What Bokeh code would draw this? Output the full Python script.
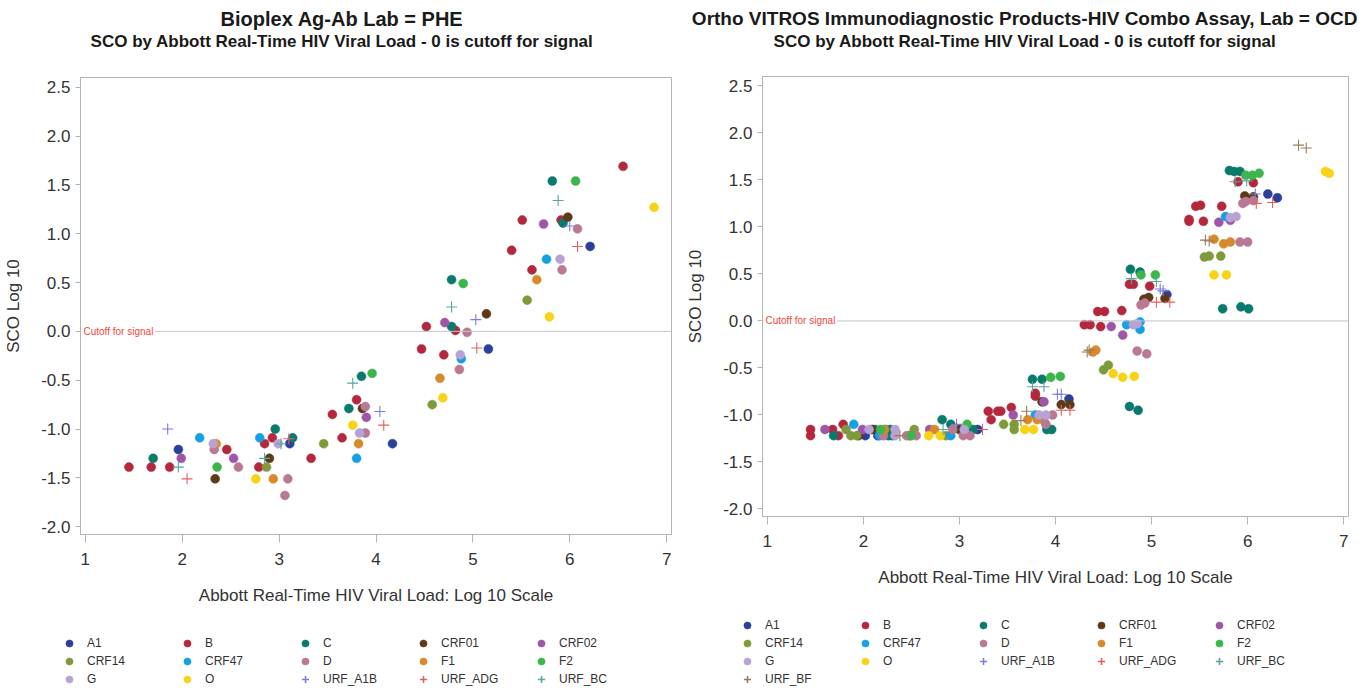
from bokeh.plotting import figure
from bokeh.models import (Range1d, FixedTicker, PrintfTickFormatter, Span, Label,
                          Legend, LegendItem)
from bokeh.layouts import row, column
from bokeh.embed import file_html
from bokeh.resources import INLINE

SUBTYPES = ["A1", "B", "C", "CRF01", "CRF02", "CRF14", "CRF47", "D", "F1", "F2",
            "G", "O", "URF_A1B", "URF_ADG", "URF_BC", "URF_BF"]

X_TICKS = [1, 2, 3, 4, 5, 6, 7]
Y_TICKS = [-2.0, -1.5, -1.0, -0.5, 0.0, 0.5, 1.0, 1.5, 2.0, 2.5]

TITLE_PHE = "Bioplex Ag-Ab Lab = PHE"
TITLE_OCD = "Ortho VITROS Immunodiagnostic Products-HIV Combo Assay, Lab = OCD"
SUBTITLE = "SCO by Abbott Real-Time HIV Viral Load - 0 is cutoff for signal"
X_LABEL = "Abbott Real-Time HIV Viral Load: Log 10 Scale"
Y_LABEL = "SCO Log 10"
CUTOFF_TEXT = "Cutoff for signal"

# ---- Panel 1: Bioplex, Lab = PHE  (x = viral load log10, y = SCO log10)
PHE_A1 = [(1.96, -1.21), (3.11, -1.15), (4.17, -1.15), (5.16, -0.18), (6.21, 0.87)]
PHE_B = [(1.45, -1.39), (1.68, -1.39), (1.87, -1.39), (2.46, -1.21), (2.79, -1.39),
         (2.85, -1.15), (2.93, -1.09), (3.33, -1.30), (3.55, -0.85), (3.65, -1.09),
         (3.80, -0.70), (4.47, -0.18), (4.52, 0.05), (4.70, -0.24), (4.82, 0.01),
         (5.40, 0.83), (5.51, 1.14), (5.61, 0.63), (5.91, 1.14), (6.55, 1.69)]
PHE_C = [(1.70, -1.30), (2.96, -1.00), (3.14, -1.09), (3.72, -0.79), (3.85, -0.46),
         (4.78, 0.53), (4.78, 0.05), (5.82, 1.54), (5.93, 1.11)]
PHE_CRF01 = [(2.34, -1.51), (2.90, -1.30), (3.86, -0.79), (5.14, 0.18), (5.98, 1.17)]
PHE_CRF02 = [(1.99, -1.30), (2.53, -1.30), (3.90, -0.88), (4.71, 0.09), (5.73, 1.10)]
PHE_CRF14 = [(2.87, -1.39), (3.46, -1.15), (4.58, -0.75), (5.56, 0.32)]
PHE_CRF47 = [(2.18, -1.09), (2.80, -1.09), (3.80, -1.30), (4.88, -0.28), (5.76, 0.74)]
PHE_D = [(2.33, -1.21), (2.58, -1.39), (3.06, -1.68), (3.09, -1.51), (3.89, -0.77),
         (3.89, -1.04), (4.86, -0.39), (4.94, -0.01), (5.92, 0.63), (6.08, 1.05)]
PHE_F1 = [(2.35, -1.15), (2.94, -1.51), (3.82, -1.15), (4.66, -0.48), (5.66, 0.53)]
PHE_F2 = [(2.36, -1.39), (3.96, -0.43), (4.90, 0.49), (6.06, 1.54)]
PHE_G = [(2.32, -1.15), (2.99, -1.15), (3.83, -1.04), (4.87, -0.24), (5.90, 0.74)]
PHE_O = [(2.76, -1.51), (3.76, -0.96), (4.69, -0.68), (5.79, 0.15), (6.87, 1.27)]
PHE_URF_A1B = [(1.85, -1.00), (4.04, -0.82), (5.03, 0.12), (6.00, 1.08)]
PHE_URF_ADG = [(2.05, -1.51), (3.10, -1.10), (4.08, -0.96), (5.04, -0.17), (6.08, 0.87)]
PHE_URF_BC = [(1.96, -1.39), (2.85, -1.30), (3.02, -1.15), (3.76, -0.53), (4.78, 0.25),
              (5.88, 1.34)]
PHE_URF_BF = []

# ---- Panel 2: Ortho VITROS, Lab = OCD
OCD_A1 = [(2.02, -1.22), (2.15, -1.22), (3.19, -1.155), (4.14, -0.83), (5.16, 0.28),
          (6.21, 1.35), (6.31, 1.31)]
OCD_B = [(1.45, -1.155), (1.45, -1.22), (1.68, -1.155), (1.74, -1.22), (1.79, -1.10),
         (2.48, -1.22), (3.30, -0.96), (3.33, -1.05), (3.40, -0.96), (3.43, -0.96),
         (3.54, -0.92), (3.79, -0.80), (3.79, -0.77), (4.30, -0.04), (4.36, -0.04),
         (4.47, -0.06), (4.44, 0.10), (4.51, 0.10), (4.69, 0.11), (4.77, 0.39),
         (4.81, 0.39), (4.98, 0.37), (5.39, 1.08), (5.39, 1.06), (5.54, 1.06),
         (5.46, 1.22), (5.51, 1.23), (5.73, 1.22), (5.90, 1.48), (6.06, 1.47)]
OCD_C = [(1.69, -1.22), (2.12, -1.155), (2.23, -1.155), (2.26, -1.22), (2.28, -1.155),
         (2.30, -1.22), (2.82, -1.05), (2.91, -1.10), (3.14, -1.155), (3.76, -0.62),
         (3.86, -0.62), (3.91, -1.155), (3.96, -1.155), (4.77, -0.91), (4.86, -0.95),
         (4.78, 0.55), (4.88, 0.52), (5.74, 0.13), (5.93, 0.15), (6.01, 0.13),
         (5.81, 1.60), (5.86, 1.59), (5.92, 1.59)]
OCD_CRF01 = [(1.95, -1.22), (2.09, -1.155), (3.00, -1.155), (3.86, -0.86), (4.06, -0.89),
             (4.15, -0.89), (4.92, 0.23), (4.97, 0.25), (5.14, 0.24), (5.97, 1.33),
             (6.06, 1.32)]
OCD_CRF02 = [(1.60, -1.155), (1.99, -1.155), (2.69, -1.155), (3.56, -1.00), (3.88, -0.86),
             (4.58, -0.06), (4.70, -0.15), (5.70, 1.05), (5.82, 1.07)]
OCD_CRF14 = [(1.82, -1.155), (1.87, -1.22), (1.93, -1.22), (2.53, -1.155), (2.86, -1.22),
             (3.46, -1.10), (3.57, -1.10), (3.57, -1.155), (4.50, -0.52), (4.55, -0.47),
             (5.55, 0.68), (5.60, 0.69), (5.72, 0.69)]
OCD_CRF47 = [(1.90, -1.10), (2.17, -1.22), (2.91, -1.22), (3.79, -1.00), (4.74, -0.04),
             (4.88, -0.01), (4.88, -0.09), (5.77, 1.11)]
OCD_D = [(2.21, -1.22), (2.45, -1.22), (2.55, -1.22), (2.93, -1.155), (3.04, -1.22),
         (3.11, -1.22), (3.88, -1.06), (3.90, -1.10), (3.97, -1.00), (4.85, -0.32),
         (4.95, -0.35), (4.89, 0.17), (4.93, 0.19), (5.92, 0.84), (6.00, 0.84),
         (5.95, 1.25), (5.98, 1.27), (6.06, 1.28)]
OCD_F1 = [(2.22, -1.155), (2.74, -1.155), (3.71, -1.05), (3.81, -1.05), (4.42, -0.31),
          (4.39, -0.33), (5.65, 0.87), (5.75, 0.82), (5.82, 0.84)]
OCD_F2 = [(2.18, -1.155), (2.50, -1.22), (3.08, -1.10), (3.95, -0.60), (4.05, -0.59),
          (4.89, 0.49), (5.04, 0.49), (5.98, 1.55), (6.05, 1.55), (6.12, 1.57)]
OCD_G = [(2.06, -1.155), (2.33, -1.155), (2.33, -1.22), (3.05, -1.155), (3.83, -1.00),
         (3.90, -1.00), (4.81, -0.04), (4.85, -0.03), (5.82, 1.10), (5.88, 1.11)]
OCD_O = [(2.68, -1.22), (2.80, -1.22), (3.68, -1.155), (3.77, -1.155), (4.60, -0.56),
         (4.70, -0.60), (4.82, -0.59), (5.65, 0.49), (5.78, 0.49), (6.81, 1.59),
         (6.85, 1.57)]
OCD_URF_A1B = [(2.97, -1.10), (4.02, -0.78), (4.06, -0.78), (5.09, 0.34), (5.12, 0.32),
               (6.08, 1.35)]
OCD_URF_ADG = [(3.24, -1.155), (4.06, -0.95), (4.15, -0.95), (5.05, 0.20), (5.19, 0.20),
               (6.09, 1.25), (6.26, 1.26)]
OCD_URF_BC = [(2.83, -1.155), (3.76, -0.70), (3.88, -0.70), (4.79, 0.45), (5.05, 0.42),
              (5.87, 1.48), (5.99, 1.49)]
OCD_URF_BF = [(2.38, -1.22), (3.64, -1.06), (3.70, -0.96), (4.35, -0.31), (4.33, -0.33),
              (5.56, 0.86), (5.60, 0.85), (6.53, 1.87), (6.61, 1.84)]

PHE = [PHE_A1, PHE_B, PHE_C, PHE_CRF01, PHE_CRF02, PHE_CRF14, PHE_CRF47, PHE_D, PHE_F1,
       PHE_F2, PHE_G, PHE_O, PHE_URF_A1B, PHE_URF_ADG, PHE_URF_BC, PHE_URF_BF]
OCD = [OCD_A1, OCD_B, OCD_C, OCD_CRF01, OCD_CRF02, OCD_CRF14, OCD_CRF47, OCD_D, OCD_F1,
       OCD_F2, OCD_G, OCD_O, OCD_URF_A1B, OCD_URF_ADG, OCD_URF_BC, OCD_URF_BF]

# ---- styles
COLORS = {
    "A1": "#2b3f9b", "B": "#b3283d", "C": "#0a7a6c", "CRF01": "#5c3a17",
    "CRF02": "#a056a8", "CRF14": "#7f9a3b", "CRF47": "#14a0e2", "D": "#b97893",
    "F1": "#d8892b", "F2": "#3cb54a", "G": "#b8a2d3", "O": "#f6d316",
    "URF_A1B": "#7b7ddd", "URF_ADG": "#e5605f", "URF_BC": "#55a7a0", "URF_BF": "#9a7a58",
}
FONT = "Liberation Sans"
TXT = "#333333"
GRAY = "#b4b4b4"
W = 683


def no_align(f):
    try:
        f.frame_align = False
    except Exception:
        pass
    return f


def blank_fig(h, x_start=0):
    f = figure(width=W, height=h, x_range=Range1d(x_start, x_start + W),
               y_range=Range1d(0, h), x_axis_type=None, y_axis_type=None,
               output_backend="svg", toolbar_location=None, min_border=0)
    f.outline_line_color = None
    f.grid.visible = False
    f.background_fill_color = "white"
    f.border_fill_color = "white"
    return no_align(f)


def add_marks(p, name, xs, ys, cross_width=1.1):
    if name.startswith("URF"):
        return p.scatter(xs, ys, marker="cross", size=11, line_color=COLORS[name],
                         line_width=cross_width)
    return p.scatter(xs, ys, marker="circle", size=9, fill_color=COLORS[name],
                     line_color=COLORS[name], line_width=0.5)


def make_panel(groups, title, geo):
    # title strip
    t = blank_fig(geo["top"])
    t.add_layout(Label(x=W / 2, y=geo["top"] - 18, text=title, text_font=FONT,
                       text_font_size=geo["tsize"], text_font_style="bold",
                       text_color="#1a1a1a", text_align="center", text_baseline="middle"))
    t.add_layout(Label(x=W / 2, y=geo["top"] - 41, text=SUBTITLE, text_font=FONT,
                       text_font_size="17px", text_font_style="bold",
                       text_color="#1a1a1a", text_align="center", text_baseline="middle"))

    # plot
    p = figure(width=W, height=geo["ph"], x_range=Range1d(0.95, 7.05),
               y_range=Range1d(-2.08, 2.6), output_backend="svg",
               toolbar_location=None, min_border_left=geo["left"],
               min_border_right=geo["right"], min_border_top=0,
               min_border_bottom=geo["bottom"])
    no_align(p)
    p.xgrid.grid_line_color = None
    p.ygrid.grid_line_color = None
    p.outline_line_color = GRAY
    p.background_fill_color = "white"
    p.border_fill_color = "white"

    for ax in (p.xaxis[0], p.yaxis[0]):
        ax.axis_line_color = GRAY
        ax.major_tick_line_color = GRAY
        ax.minor_tick_line_color = None
        ax.major_tick_in = 0
        ax.major_label_text_font = FONT
        ax.major_label_text_font_size = "17px"
        ax.major_label_text_color = TXT
        ax.axis_label_text_font = FONT
        ax.axis_label_text_font_size = "17px"
        ax.axis_label_text_font_style = "normal"
        ax.axis_label_text_color = TXT

    p.xaxis.ticker = FixedTicker(ticks=X_TICKS)
    p.xaxis.formatter = PrintfTickFormatter(format="%d")
    p.xaxis.major_tick_out = 8
    p.xaxis.major_label_standoff = 10
    p.xaxis.axis_label = X_LABEL
    p.xaxis.axis_label_standoff = 18

    p.yaxis.ticker = FixedTicker(ticks=Y_TICKS)
    p.yaxis.formatter = PrintfTickFormatter(format="%.1f")
    p.yaxis.major_tick_out = 5
    p.yaxis.major_label_standoff = 5
    p.yaxis.axis_label = Y_LABEL
    p.yaxis.axis_label_standoff = 15

    p.add_layout(Span(location=0, dimension="width", line_color="#c4c4c4", line_width=1))
    p.add_layout(Label(x=1, y=0, x_units="screen", y_units="data", text=CUTOFF_TEXT,
                       text_font=FONT, text_font_size="10px", text_color="#f2453a",
                       text_baseline="middle", background_fill_color="white",
                       padding=2))

    # legend strip: same series, whose x values fall outside this strip's range,
    # so only the legend entries show
    lg = blank_fig(geo["lh"], x_start=1000)
    items = []
    for name, pts in zip(SUBTYPES, groups):
        if not pts:
            continue
        xs = [a for a, b in pts]
        ys = [b for a, b in pts]
        add_marks(p, name, xs, ys)
        r = add_marks(lg, name, xs, ys, cross_width=1.6)
        items.append(LegendItem(label=name, renderers=[r]))

    legend = Legend(items=items, orientation="horizontal", ncols=5,
                    location=(geo["lx"], geo["lh"] - geo["lrows"] * 18),
                    padding=0, margin=0, spacing=0,
                    glyph_width=20, glyph_height=18, label_height=18, label_width=90,
                    label_standoff=8, border_line_color=None, background_fill_alpha=0,
                    click_policy="none",
                    label_text_font=FONT, label_text_font_size="12px",
                    label_text_color=TXT)
    lg.add_layout(legend)
    return column(t, p, lg)


left = make_panel(PHE, TITLE_PHE, dict(top=77, ph=557, left=80, right=12, bottom=100,
                                       lh=54, lx=59, lrows=3, tsize="20px"))
right = make_panel(OCD, TITLE_OCD, dict(top=76, ph=540, left=76, right=18, bottom=100,
                                        lh=72, lx=54, lrows=4, tsize="19px"))

layout = row(left, right)
open("out.html", "w").write(file_html(layout, INLINE))
